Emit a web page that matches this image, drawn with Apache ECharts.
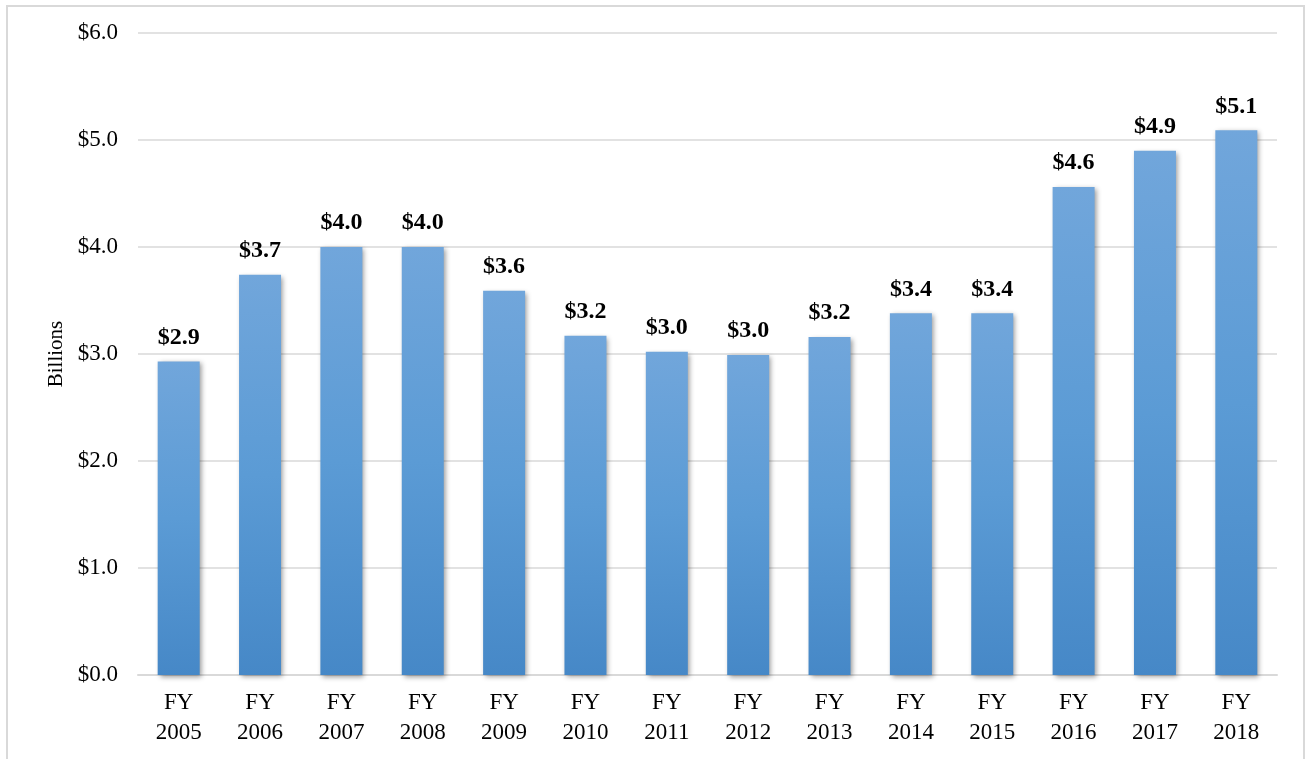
<!DOCTYPE html>
<html>
<head>
<meta charset="utf-8">
<script src="https://cdn.jsdelivr.net/npm/echarts@6/dist/echarts.min.js"></script>
<style>
  html, body { margin: 0; padding: 0; background: #fff; }
  #frame { position: absolute; left: 6px; top: 5px; width: 1299px; height: 770px; border: 2px solid #d9d9d9; box-sizing: border-box; }
  #chart { width: 1308px; height: 759px; position: absolute; left: 0; top: 0; }
</style>
</head>
<body>
<div id="frame"></div>
<div id="chart"></div>
<script>
const years = ['FY\n2005', 'FY\n2006', 'FY\n2007', 'FY\n2008', 'FY\n2009', 'FY\n2010', 'FY\n2011',
  'FY\n2012', 'FY\n2013', 'FY\n2014', 'FY\n2015', 'FY\n2016', 'FY\n2017', 'FY\n2018'];
const billions = [2.93, 3.74, 4.0, 4.0, 3.59, 3.17, 3.02, 2.99, 3.16, 3.38, 3.38, 4.56, 4.9, 5.09];

const serif = '"Liberation Serif", "Times New Roman", serif';

let myChart = echarts.init(document.getElementById('chart'));
let option = {
  animation: false,
  grid: {
    left: 138,
    right: 31,
    top: 33,
    bottom: 84
  },
  xAxis: {
    type: 'category',
    data: years,
    axisTick: {show: false},
    axisLine: {lineStyle: {color: '#d9d9d9', width: 2}},
    axisLabel: {
      fontFamily: serif,
      fontSize: 23,
      color: '#000',
      lineHeight: 30,
      margin: 13
    }
  },
  yAxis: {
    type: 'value',
    min: 0,
    max: 6,
    interval: 1,
    name: 'Billions',
    nameLocation: 'middle',
    nameGap: 70,
    nameRotate: 90,
    nameTextStyle: {fontFamily: serif, fontSize: 21, color: '#000'},
    axisLabel: {
      fontFamily: serif,
      fontSize: 23,
      color: '#000',
      margin: 20,
      formatter: v => '$' + v.toFixed(1)
    },
    splitLine: {lineStyle: {color: '#d9d9d9', width: 1.5}}
  },
  series: [
    {
      type: 'bar',
      data: billions,
      barWidth: 42,
      itemStyle: {
        color: new echarts.graphic.LinearGradient(0, 0, 0, 1, [
          {offset: 0, color: '#71a6db'},
          {offset: 0.5, color: '#5b9bd5'},
          {offset: 1, color: '#4688c7'}
        ]),
        shadowColor: 'rgba(0,0,0,0.4)',
        shadowBlur: 5,
        shadowOffsetX: 2,
        shadowOffsetY: 2
      },
      label: {
        show: true,
        position: 'top',
        distance: 12,
        fontFamily: serif,
        fontWeight: 'bold',
        fontSize: 24,
        color: '#000',
        formatter: p => '$' + p.value.toFixed(1)
      }
    }
  ]
};
option && myChart.setOption(option);
</script>
</body>
</html>
